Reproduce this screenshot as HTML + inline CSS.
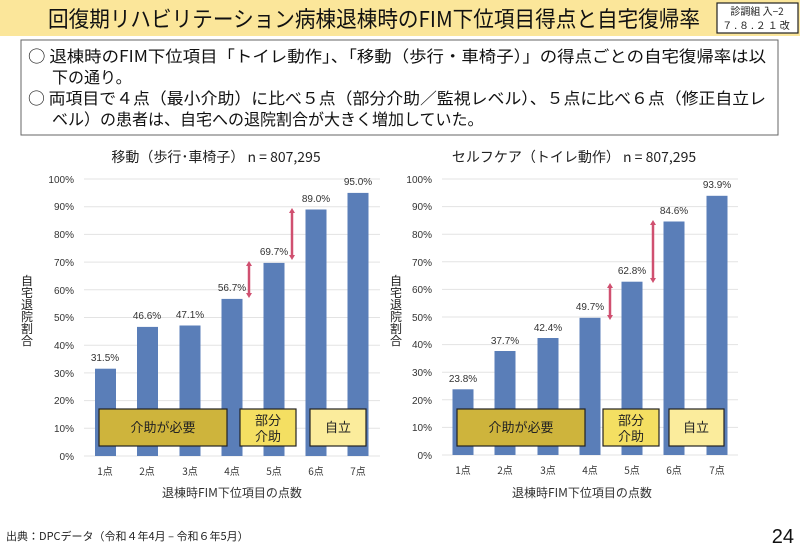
<!DOCTYPE html>
<html><head><meta charset="utf-8"><style>
html,body{margin:0;padding:0;background:#fff;}
svg{display:block;font-family:"Liberation Sans","Noto Sans CJK JP",sans-serif;}
</style></head><body>
<svg width="800" height="553" viewBox="0 0 800 553" xmlns="http://www.w3.org/2000/svg">
<rect x="0" y="0" width="800" height="36" fill="#fbe69a"/>
<text x="48" y="27" font-size="22" textLength="652" lengthAdjust="spacingAndGlyphs" fill="#111" font-family="Noto Sans CJK JP, sans-serif">回復期リハビリテーション病棟退棟時のFIM下位項目得点と自宅復帰率</text>
<rect x="717" y="3" width="81" height="30" fill="#fff" stroke="#222" stroke-width="1.2"/>
<text x="757" y="15" font-size="10" text-anchor="middle" fill="#222" font-family="Noto Sans CJK JP, sans-serif">診調組 入−2</text>
<text x="757" y="29" font-size="10" text-anchor="middle" fill="#222" font-family="Noto Sans CJK JP, sans-serif" letter-spacing="2">７.８.２１改</text>
<rect x="21" y="40" width="757" height="95" fill="#fff" stroke="#666" stroke-width="1"/>
<g font-size="16" fill="#111" font-family="Noto Sans CJK JP, sans-serif">
<text x="28" y="62" textLength="738" lengthAdjust="spacingAndGlyphs">○ 退棟時のFIM下位項目「トイレ動作」、「移動（歩行・車椅子）」の得点ごとの自宅復帰率は以</text>
<text x="52" y="83">下の通り。</text>
<text x="28" y="104" textLength="738" lengthAdjust="spacingAndGlyphs">○ 両項目で４点（最小介助）に比べ５点（部分介助／監視レベル）、５点に比べ６点（修正自立レ</text>
<text x="52" y="125">ベル）の患者は、自宅への退院割合が大きく増加していた。</text>
</g>

<!-- Left chart -->
<text x="216" y="162" font-size="14" text-anchor="middle" fill="#222" font-family="Noto Sans CJK JP, sans-serif">移動（歩行･車椅子） n = 807,295</text>
<g stroke="#e3e3e3" stroke-width="1">
<line x1="84" x2="380" y1="456" y2="456"/><line x1="84" x2="380" y1="428.3" y2="428.3"/><line x1="84" x2="380" y1="400.6" y2="400.6"/><line x1="84" x2="380" y1="372.9" y2="372.9"/><line x1="84" x2="380" y1="345.2" y2="345.2"/><line x1="84" x2="380" y1="317.5" y2="317.5"/><line x1="84" x2="380" y1="289.8" y2="289.8"/><line x1="84" x2="380" y1="262.1" y2="262.1"/><line x1="84" x2="380" y1="234.4" y2="234.4"/><line x1="84" x2="380" y1="206.7" y2="206.7"/><line x1="84" x2="380" y1="179" y2="179"/>
</g>
<g font-size="10" fill="#333" text-anchor="end">
<text x="74" y="460">0%</text><text x="74" y="432">10%</text><text x="74" y="404">20%</text><text x="74" y="377">30%</text><text x="74" y="349">40%</text><text x="74" y="321">50%</text><text x="74" y="294">60%</text><text x="74" y="266">70%</text><text x="74" y="238">80%</text><text x="74" y="210">90%</text><text x="74" y="183">100%</text>
</g>
<g fill="#5a7eb8">
<rect x="95" y="368.7" width="21" height="87.3"/><rect x="137" y="326.9" width="21" height="129.1"/><rect x="179.5" y="325.5" width="21" height="130.5"/><rect x="221.5" y="298.9" width="21" height="157.1"/><rect x="263.5" y="262.9" width="21" height="193.1"/><rect x="305.5" y="209.5" width="21" height="246.5"/><rect x="347.5" y="192.9" width="21" height="263.1"/>
</g>
<g font-size="10" fill="#333" text-anchor="middle">
<text x="105" y="361">31.5%</text><text x="147" y="319">46.6%</text><text x="190" y="318">47.1%</text><text x="232" y="291">56.7%</text><text x="274" y="255">69.7%</text><text x="316" y="202">89.0%</text><text x="358" y="185">95.0%</text>
</g>
<g font-size="10" fill="#333" text-anchor="middle" font-family="Noto Sans CJK JP, sans-serif">
<text x="105" y="475">1点</text><text x="147" y="475">2点</text><text x="190" y="475">3点</text><text x="232" y="475">4点</text><text x="274" y="475">5点</text><text x="316" y="475">6点</text><text x="358" y="475">7点</text>
<text x="232" y="497" font-size="12">退棟時FIM下位項目の点数</text>
</g>
<g font-size="12" fill="#222" text-anchor="middle" font-family="Noto Sans CJK JP, sans-serif">
<text x="27" y="285">自</text><text x="27" y="297">宅</text><text x="27" y="309">退</text><text x="27" y="321">院</text><text x="27" y="333">割</text><text x="27" y="345">合</text>
<text x="396" y="285">自</text><text x="396" y="297">宅</text><text x="396" y="309">退</text><text x="396" y="321">院</text><text x="396" y="333">割</text><text x="396" y="345">合</text>
</g>
<g stroke="#d05070" stroke-width="2.5" fill="#d05070">
<line x1="249" y1="265" x2="249" y2="294"/><line x1="292" y1="213" x2="292" y2="255"/>
</g>
<g fill="#d05070">
<polygon points="246,266 252,266 249,261"/><polygon points="246,293 252,293 249,298"/>
<polygon points="289,213 295,213 292,208"/><polygon points="289,255 295,255 292,260"/>
</g>
<rect x="99" y="409" width="128" height="37" fill="#ceb43c" stroke="#222" stroke-width="1.2"/>
<rect x="240" y="409" width="56" height="37" fill="#f4df62" stroke="#222" stroke-width="1.2"/>
<rect x="310" y="409" width="56" height="37" fill="#fbec9c" stroke="#222" stroke-width="1.2"/>
<g font-size="13" fill="#222" text-anchor="middle" font-family="Noto Sans CJK JP, sans-serif">
<text x="163" y="432">介助が必要</text><text x="268" y="425">部分</text><text x="268" y="441">介助</text><text x="338" y="432">自立</text>
</g>

<!-- Right chart -->
<text x="574" y="162" font-size="14" text-anchor="middle" fill="#222" font-family="Noto Sans CJK JP, sans-serif">セルフケア（トイレ動作） n = 807,295</text>
<g stroke="#e3e3e3" stroke-width="1">
<line x1="442" x2="738" y1="455" y2="455"/><line x1="442" x2="738" y1="427.4" y2="427.4"/><line x1="442" x2="738" y1="399.8" y2="399.8"/><line x1="442" x2="738" y1="372.2" y2="372.2"/><line x1="442" x2="738" y1="344.6" y2="344.6"/><line x1="442" x2="738" y1="317" y2="317"/><line x1="442" x2="738" y1="289.4" y2="289.4"/><line x1="442" x2="738" y1="261.8" y2="261.8"/><line x1="442" x2="738" y1="234.2" y2="234.2"/><line x1="442" x2="738" y1="206.6" y2="206.6"/><line x1="442" x2="738" y1="179" y2="179"/>
</g>
<g font-size="10" fill="#333" text-anchor="end">
<text x="432" y="459">0%</text><text x="432" y="431">10%</text><text x="432" y="404">20%</text><text x="432" y="376">30%</text><text x="432" y="348">40%</text><text x="432" y="321">50%</text><text x="432" y="293">60%</text><text x="432" y="266">70%</text><text x="432" y="238">80%</text><text x="432" y="210">90%</text><text x="432" y="183">100%</text>
</g>
<g fill="#5a7eb8">
<rect x="452.5" y="389.3" width="21" height="65.7"/><rect x="494.5" y="351" width="21" height="104"/><rect x="537.5" y="338" width="21" height="117"/><rect x="579.5" y="317.8" width="21" height="137.2"/><rect x="621.5" y="281.7" width="21" height="173.3"/><rect x="663.5" y="221.5" width="21" height="233.5"/><rect x="706.5" y="195.8" width="21" height="259.2"/>
</g>
<g font-size="10" fill="#333" text-anchor="middle">
<text x="463" y="382">23.8%</text><text x="505" y="344">37.7%</text><text x="548" y="331">42.4%</text><text x="590" y="310">49.7%</text><text x="632" y="274">62.8%</text><text x="674" y="214">84.6%</text><text x="717" y="188">93.9%</text>
</g>
<g font-size="10" fill="#333" text-anchor="middle" font-family="Noto Sans CJK JP, sans-serif">
<text x="463" y="474">1点</text><text x="505" y="474">2点</text><text x="548" y="474">3点</text><text x="590" y="474">4点</text><text x="632" y="474">5点</text><text x="674" y="474">6点</text><text x="717" y="474">7点</text>
<text x="582" y="497" font-size="12">退棟時FIM下位項目の点数</text>
</g>
<g stroke="#d05070" stroke-width="2.5">
<line x1="610" y1="287" x2="610" y2="316"/><line x1="653" y1="224" x2="653" y2="279"/>
</g>
<g fill="#d05070">
<polygon points="607,288 613,288 610,283"/><polygon points="607,315 613,315 610,320"/>
<polygon points="650,225 656,225 653,220"/><polygon points="650,278 656,278 653,283"/>
</g>
<rect x="457" y="409" width="128" height="37" fill="#ceb43c" stroke="#222" stroke-width="1.2"/>
<rect x="603" y="409" width="56" height="37" fill="#f4df62" stroke="#222" stroke-width="1.2"/>
<rect x="669" y="409" width="55" height="37" fill="#fbec9c" stroke="#222" stroke-width="1.2"/>
<g font-size="13" fill="#222" text-anchor="middle" font-family="Noto Sans CJK JP, sans-serif">
<text x="521" y="432">介助が必要</text><text x="631" y="425">部分</text><text x="631" y="441">介助</text><text x="696" y="432">自立</text>
</g>

<text x="6" y="540" font-size="11" fill="#222" font-family="Noto Sans CJK JP, sans-serif">出典：DPCデータ（令和４年4月 – 令和６年5月）</text>
<text x="794" y="543" font-size="20" fill="#111" text-anchor="end">24</text>
</svg>
</body></html>
